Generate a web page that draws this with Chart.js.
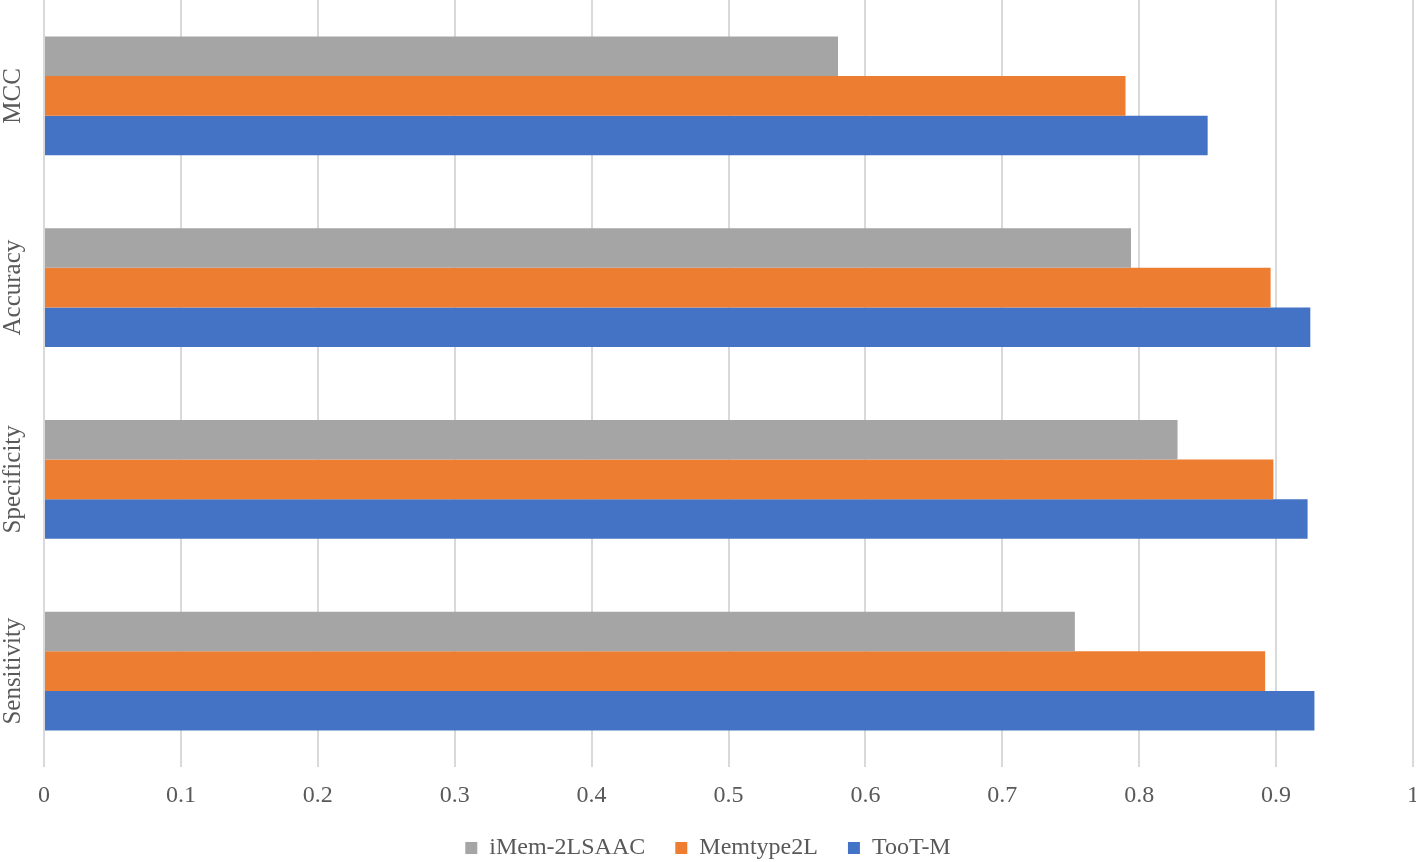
<!DOCTYPE html>
<html>
<head>
<meta charset="utf-8">
<script src="https://cdn.jsdelivr.net/npm/chart.js@4"></script>
<style>
  html, body { margin: 0; padding: 0; background: #fff; }
  #wrap { width: 1416px; height: 862px; }
</style>
</head>
<body>
<div id="wrap"><canvas id="bar_chart"></canvas></div>
<script>
const categories = ["MCC", "Accuracy", "Specificity", "Sensitivity"];
const seriesNames = ["iMem-2LSAAC", "Memtype2L", "TooT-M"];
const imemValues = [0.58, 0.794, 0.828, 0.753];
const memtypeValues = [0.79, 0.896, 0.898, 0.892];
const tootValues = [0.85, 0.925, 0.923, 0.928];
const xTicks = [0, 0.1, 0.2, 0.3, 0.4, 0.5, 0.6, 0.7, 0.8, 0.9, 1];

const textColor = "#595959";
const fontFamily = "'Liberation Serif', 'Times New Roman', serif";

// draws the rotated category names on the left
const yLabels = {
  id: "yLabels",
  afterDraw(chart) {
    const ctx = chart.ctx;
    const y = chart.scales.y;
    ctx.save();
    ctx.fillStyle = textColor;
    ctx.font = "25px " + fontFamily;
    ctx.textAlign = "center";
    ctx.textBaseline = "middle";
    categories.forEach((c, i) => {
      ctx.save();
      ctx.translate(13, y.getPixelForTick(i));
      ctx.rotate(-Math.PI / 2);
      ctx.fillText(c, 0, 0);
      ctx.restore();
    });
    ctx.restore();
  },
};

const ctx = document.getElementById("bar_chart").getContext("2d");

let configuration = {
  type: "bar",
  data: {
    labels: categories,
    datasets: [
      { label: seriesNames[0], data: imemValues, backgroundColor: "#A5A5A5" },
      { label: seriesNames[1], data: memtypeValues, backgroundColor: "#ED7D31" },
      { label: seriesNames[2], data: tootValues, backgroundColor: "#4472C4" },
    ],
  },
  options: {
    indexAxis: "y",
    responsive: true,
    maintainAspectRatio: false,
    animation: false,
    layout: { padding: { top: 0, right: 0, bottom: -8, left: 0 } },
    datasets: {
      bar: { barPercentage: 1, categoryPercentage: 0.62 },
    },
    scales: {
      x: {
        min: 0,
        max: 1,
        afterBuildTicks: (axis) => {
          axis.ticks = xTicks.map((v) => ({ value: v }));
        },
        afterFit: (axis) => {
          axis.paddingLeft = 0;
          axis.paddingRight = 3;
          axis.height = 39;
        },
        grid: { color: "#D9D9D9", lineWidth: 2, drawTicks: false },
        border: { display: false },
        ticks: {
          color: textColor,
          font: { family: fontFamily, size: 24 },
          padding: 14,
          maxRotation: 0,
          callback: (v) => String(v),
        },
      },
      y: {
        grid: { display: false },
        border: { display: false },
        ticks: { display: false },
        afterFit: (axis) => {
          axis.width = 44;
        },
      },
    },
    plugins: {
      legend: {
        position: "bottom",
        labels: {
          color: textColor,
          font: { family: fontFamily, size: 24 },
          boxWidth: 12,
          boxHeight: 12,
          padding: 30,
        },
      },
      tooltip: { enabled: false },
    },
  },
  plugins: [yLabels],
};

let chart = new Chart(ctx, configuration);
</script>
</body>
</html>
